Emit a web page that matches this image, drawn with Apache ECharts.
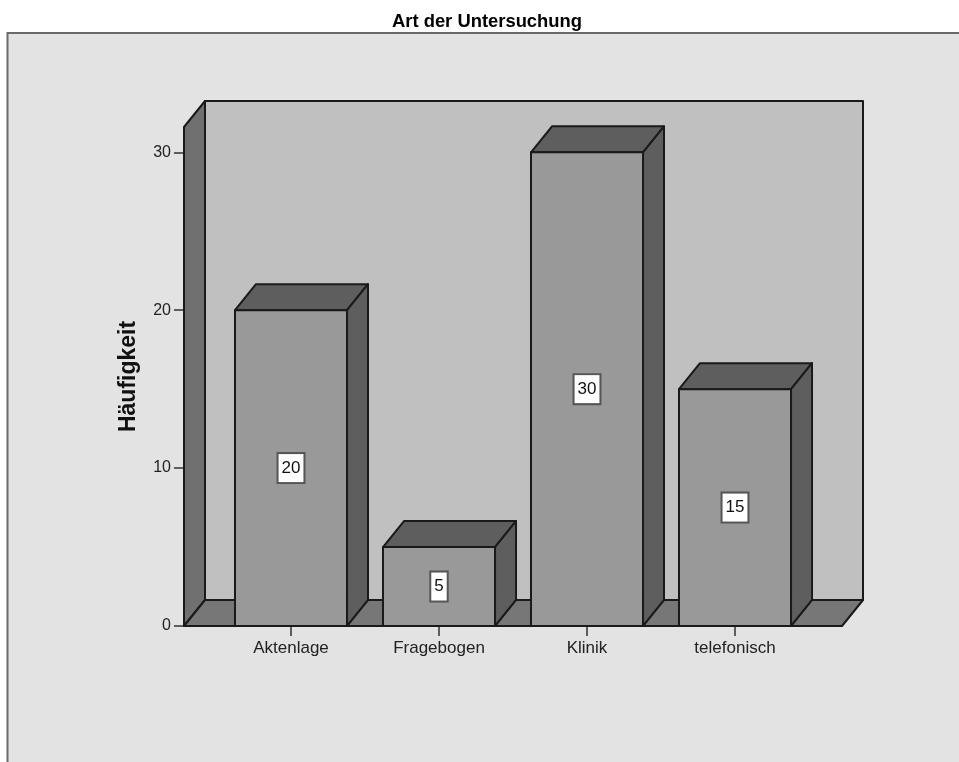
<!DOCTYPE html>
<html>
<head>
<meta charset="utf-8">
<style>html,body{margin:0;padding:0;background:#fff}#c{width:959px;height:762px}</style>
<script src="https://cdn.jsdelivr.net/npm/echarts@6/dist/echarts.min.js"></script>
</head>
<body>
<div id="c"></div>
<script>
const chartTitle = 'Art der Untersuchung';
const yName = 'Häufigkeit';
const categories = ['Aktenlage', 'Fragebogen', 'Klinik', 'telefonisch'];
const counts = [20, 5, 30, 15];
const yTicks = [0, 10, 20, 30];

// Oblique depth of the 3D extrusion, and how far the frame reaches past the category band.
const DX = 21, DY = 26, PAD_L = 33, PAD_R = 33;
const FONT = '"Liberation Sans", Arial, sans-serif';
const STROKE = { stroke: '#1a1a1a', lineWidth: 2, lineJoin: 'round' };

function poly(points, fill, z2) {
  return { type: 'polygon', z2: z2, shape: { points: points }, style: Object.assign({ fill: fill }, STROKE) };
}

// Back wall, side wall and floor of the box behind the bars.
function renderWalls(params, api) {
  const cs = params.coordSys;
  const l = cs.x - PAD_L, r = cs.x + cs.width + PAD_R, t = cs.y, b = cs.y + cs.height;
  return {
    type: 'group',
    children: [
      poly([[l + DX, t - DY], [r + DX, t - DY], [r + DX, b - DY], [l + DX, b - DY]], '#c0c0c0', 1),
      poly([[l, t], [l + DX, t - DY], [l + DX, b - DY], [l, b]], '#707070', 2),
      poly([[l, b], [l + DX, b - DY], [r + DX, b - DY], [r, b]], '#777777', 2)
    ]
  };
}

// One extruded bar: front face plus top and right faces.
function renderBar(params, api) {
  const c = api.coord([api.value(0), api.value(1)]);
  const base = api.coord([api.value(0), 0]);
  const w = api.size([1, 0])[0] * 0.757;
  const x0 = c[0] - w / 2, x1 = c[0] + w / 2, t = c[1], b = base[1];
  return {
    type: 'group',
    children: [
      poly([[x0, t], [x0 + DX, t - DY], [x1 + DX, t - DY], [x1, t]], '#5e5e5e', 3),
      poly([[x1, t], [x1 + DX, t - DY], [x1 + DX, b - DY], [x1, b]], '#5e5e5e', 3),
      poly([[x0, t], [x1, t], [x1, b], [x0, b]], '#999999', 4),
      {
        type: 'text', z2: 6,
        x: c[0], y: (t + b) / 2,
        style: {
          text: String(api.value(1)), align: 'center', verticalAlign: 'middle',
          fill: '#111', font: '17px ' + FONT,
          backgroundColor: '#fff', borderColor: '#555', borderWidth: 2,
          padding: [6, 3, 5, 3]
        }
      }
    ]
  };
}

const chart = echarts.init(document.getElementById('c'), null, { renderer: 'canvas' });
chart.setOption({
  animation: false,
  backgroundColor: '#ffffff',
  title: {
    text: chartTitle, left: 482, top: 8, textAlign: 'center', textVerticalAlign: 'top',
    textStyle: { fontFamily: FONT, fontSize: 18.4, fontWeight: 'bold', color: '#000' }
  },
  graphic: [{
    type: 'rect', z: -1, silent: true,
    shape: { x: 7.5, y: 33, width: 1000, height: 800 },
    style: { fill: '#e3e3e3', stroke: '#6a6a6a', lineWidth: 2 }
  }],
  grid: { left: 217, right: 150, top: 127, bottom: 136 },
  xAxis: {
    type: 'category', data: categories,
    axisLine: { show: false },
    axisTick: { show: true, alignWithLabel: true, length: 10, lineStyle: { color: '#333', width: 1.5 } },
    axisLabel: { fontFamily: FONT, fontSize: 17, color: '#222', margin: 14, interval: 0 }
  },
  yAxis: {
    type: 'value', min: 0, max: 31.6, offset: PAD_L,
    name: yName, nameLocation: 'middle', nameGap: 44, nameRotate: 90,
    nameTextStyle: { fontFamily: FONT, fontSize: 23, fontWeight: 'bold', color: '#111' },
    splitLine: { show: false },
    axisLine: { show: false },
    axisTick: { show: true, length: 10, customValues: yTicks, lineStyle: { color: '#333', width: 1.5 } },
    axisLabel: { fontFamily: FONT, fontSize: 16, color: '#222', margin: 13, customValues: yTicks }
  },
  series: [
    { type: 'custom', coordinateSystem: 'cartesian2d', renderItem: renderWalls, data: [[0, 0]], silent: true, z: 1 },
    { type: 'custom', coordinateSystem: 'cartesian2d', renderItem: renderBar, data: categories.map((c, i) => [i, counts[i]]), silent: true, z: 2 }
  ]
});
</script>
</body>
</html>
